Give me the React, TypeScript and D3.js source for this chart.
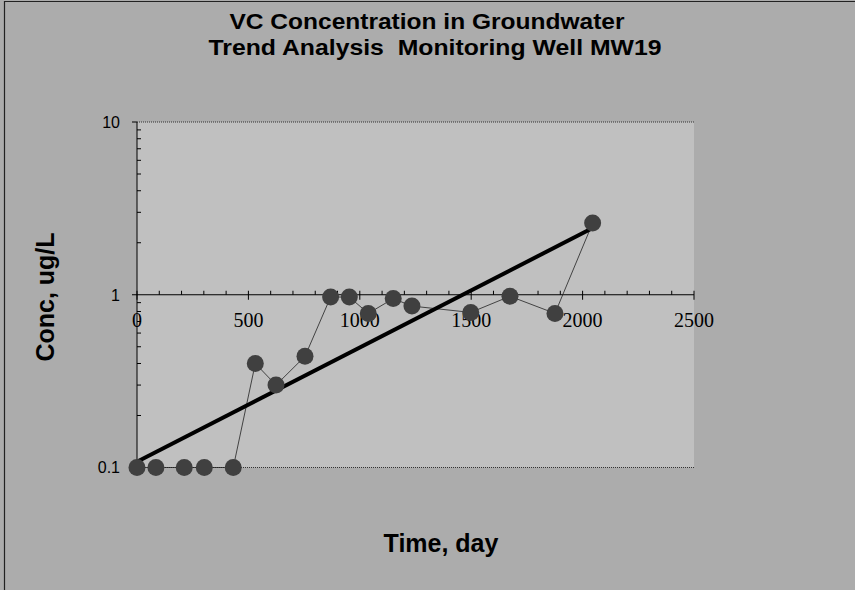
import React from 'react';
import * as d3 from 'd3';

// sample dates (days) and measured VC concentration (ug/L)
const days = [0, 85, 212, 302, 432, 531, 624, 754, 869, 953, 1038, 1150, 1234, 1498, 1674, 1876, 2045];
const conc = [0.1, 0.1, 0.1, 0.1, 0.1, 0.4, 0.3, 0.44, 0.97, 0.97, 0.78, 0.95, 0.86, 0.79, 0.98, 0.78, 2.6];

// exponential trend fit: c = a * exp(k * t)
const trendA = 0.108;
const trendK = 0.001523;

const xTicks = [0, 500, 1000, 1500, 2000, 2500];
const yTicks = [0.1, 1, 10];
const yTickLabels = ['0.1', '1', '10'];

const W = 855;
const H = 590;

const App: React.FC = () => {
    const x = d3.scaleLinear().domain([0, 2500]).range([137, 694]);
    const y = d3.scaleLog().domain([0.1, 10]).range([467.5, 122]);

    const y1 = y(1);
    const left = x(0);
    const right = x(2500);

    const minorX = d3.range(0, 2501, 100).filter(v => v % 500 !== 0);
    const minorY: number[] = [];
    [0.1, 1].forEach(d => { for (let m = 2; m <= 9; m++) minorY.push(d * m); });

    const line = d3.line<number>().x((_, i) => x(days[i])).y(d => y(d));
    const tExtent = d3.extent(days) as [number, number];
    const trend = d3.line<number>().x(t => x(t)).y(t => y(trendA * Math.exp(trendK * t)));

    const sans = 'Arial, "Liberation Sans", sans-serif';
    const serif = '"Times New Roman", "Liberation Serif", serif';

    return (
        <svg width={W} height={H} style={{ position: 'absolute', left: 0, top: 0, display: 'block' }}>
            <rect x={0} y={0} width={W} height={H} fill="#acacac" />
            <path d={`M4.5,${H} V1.5 H${W}`} fill="none" stroke="#222" strokeWidth={1.2} />

            {/* titles */}
            <text x={427} y={29} textAnchor="middle" fontFamily={sans} fontWeight="bold" fontSize={22}
                textLength={395} lengthAdjust="spacingAndGlyphs">
                VC Concentration in Groundwater
            </text>
            <text x={435} y={55} textAnchor="middle" fontFamily={sans} fontWeight="bold" fontSize={22}
                textLength={453} lengthAdjust="spacingAndGlyphs" style={{ whiteSpace: 'pre' }}>
                {'Trend Analysis  Monitoring Well MW19'}
            </text>

            {/* plot area */}
            <rect x={left} y={y(10)} width={right - left} height={y(0.1) - y(10)} fill="#c0c0c0" />
            <line x1={left} x2={right} y1={y(10)} y2={y(10)} stroke="#333" strokeDasharray="1,1" />
            <line x1={left} x2={right} y1={y(0.1)} y2={y(0.1)} stroke="#333" strokeDasharray="1,1" />

            {/* y axis */}
            <line x1={left} x2={left} y1={y(10)} y2={y(0.1)} stroke="#000" strokeWidth={1} />
            {yTicks.map(v => (
                <line key={'yt' + v} x1={left - 5} x2={left} y1={y(v)} y2={y(v)} stroke="#000" />
            ))}
            {minorY.map(v => (
                <line key={'ym' + v} x1={left} x2={left + 4} y1={y(v)} y2={y(v)} stroke="#000" />
            ))}
            {yTicks.map((v, i) => (
                <text key={'yl' + v} x={120} y={y(v)} dy="0.36em" textAnchor="end" fontFamily={sans} fontSize={16}>
                    {yTickLabels[i]}
                </text>
            ))}

            {/* x axis crossing at 1 */}
            <line x1={left} x2={right} y1={y1} y2={y1} stroke="#000" strokeWidth={1.2} />
            {xTicks.map(v => (
                <line key={'xt' + v} x1={x(v)} x2={x(v)} y1={y1 - 4} y2={y1 + 5} stroke="#000" />
            ))}
            {minorX.map(v => (
                <line key={'xm' + v} x1={x(v)} x2={x(v)} y1={y1 - 4} y2={y1} stroke="#000" />
            ))}
            {xTicks.map(v => (
                <text key={'xl' + v} x={x(v)} y={327} textAnchor="middle" fontFamily={serif} fontSize={20}>
                    {v}
                </text>
            ))}

            {/* data */}
            <path d={line(conc) || ''} fill="none" stroke="#222" strokeWidth={0.8} />
            <path d={trend([tExtent[0], tExtent[1]]) || ''} fill="none" stroke="#000" strokeWidth={4} />
            {conc.map((c, i) => (
                <circle key={'p' + i} cx={x(days[i])} cy={y(c)} r={8.5} fill="#404040" />
            ))}

            {/* axis titles */}
            <text x={441} y={552} textAnchor="middle" fontFamily={sans} fontWeight="bold" fontSize={25}>
                Time, day
            </text>
            <text transform="translate(54,297) rotate(-90)" textAnchor="middle" fontFamily={sans} fontWeight="bold" fontSize={25}>
                Conc, ug/L
            </text>
        </svg>
    );
};

export default App;
